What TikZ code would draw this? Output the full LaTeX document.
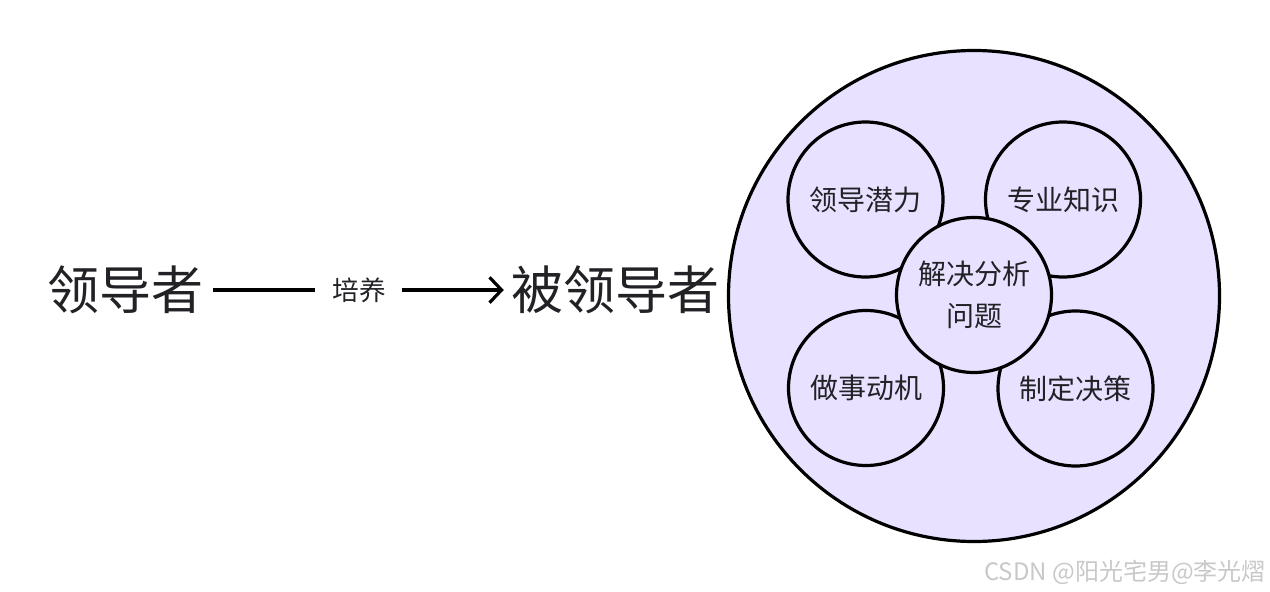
\documentclass[tikz,border=0pt]{standalone}
\usepackage{fontspec}
\setmainfont{Noto Sans CJK SC}
\usetikzlibrary{arrows.meta}
\definecolor{lav}{RGB}{232,225,255}
\definecolor{ink}{RGB}{34,34,38}
\definecolor{wm}{RGB}{200,200,200}
\begin{document}
\begin{tikzpicture}[x=0.75pt,y=-0.75pt,
  bigtxt/.style={text=ink,font=\fontsize{39pt}{41pt}\selectfont,inner sep=0pt},
  midtxt/.style={text=ink,font=\fontsize{20pt}{24pt}\selectfont,inner sep=0pt},
  conn/.style={draw=black,line width=2.4pt},
  outerring/.style={circle,draw=black,line width=2.4pt,fill=lav,minimum size=368.25pt,inner sep=0pt},
  petal/.style={circle,draw=black,line width=2.4pt,fill=lav,minimum size=116.25pt,inner sep=0pt,text=ink,font=\fontsize{21pt}{31pt}\selectfont,align=center},
]
\path[use as bounding box] (0,0) rectangle (1270,592);
\node[bigtxt] (leader) at (125,290) {领导者};
\node[midtxt] (train) at (359.5,290) {培养};
\node[bigtxt] (led) at (615.5,290) {被领导者};
\draw[conn,shorten <=7.5pt,shorten >=13pt] (leader) -- (train);
\draw[conn,-{Straight Barb[length=9pt,width=19pt]},shorten <=11.6pt,shorten >=5.6pt] (train) -- (led);
\node[outerring] (ring) at (974,296) {};
\node[petal] (p1) at (865.5,199.5) {领导潜力};
\node[petal] (p2) at (1063,199.5) {专业知识};
\node[petal] (p3) at (866,388) {做事动机};
\node[petal] (p4) at (1075.5,388.5) {制定决策};
\node[petal] (core) at (974,295) {解决分析\\问题};
\node[anchor=east,text=wm,font=\fontsize{18pt}{20pt}\selectfont,inner sep=0pt] (mark) at (1266,572) {CSDN @阳光宅男@李光熠};
\end{tikzpicture}
\end{document}
